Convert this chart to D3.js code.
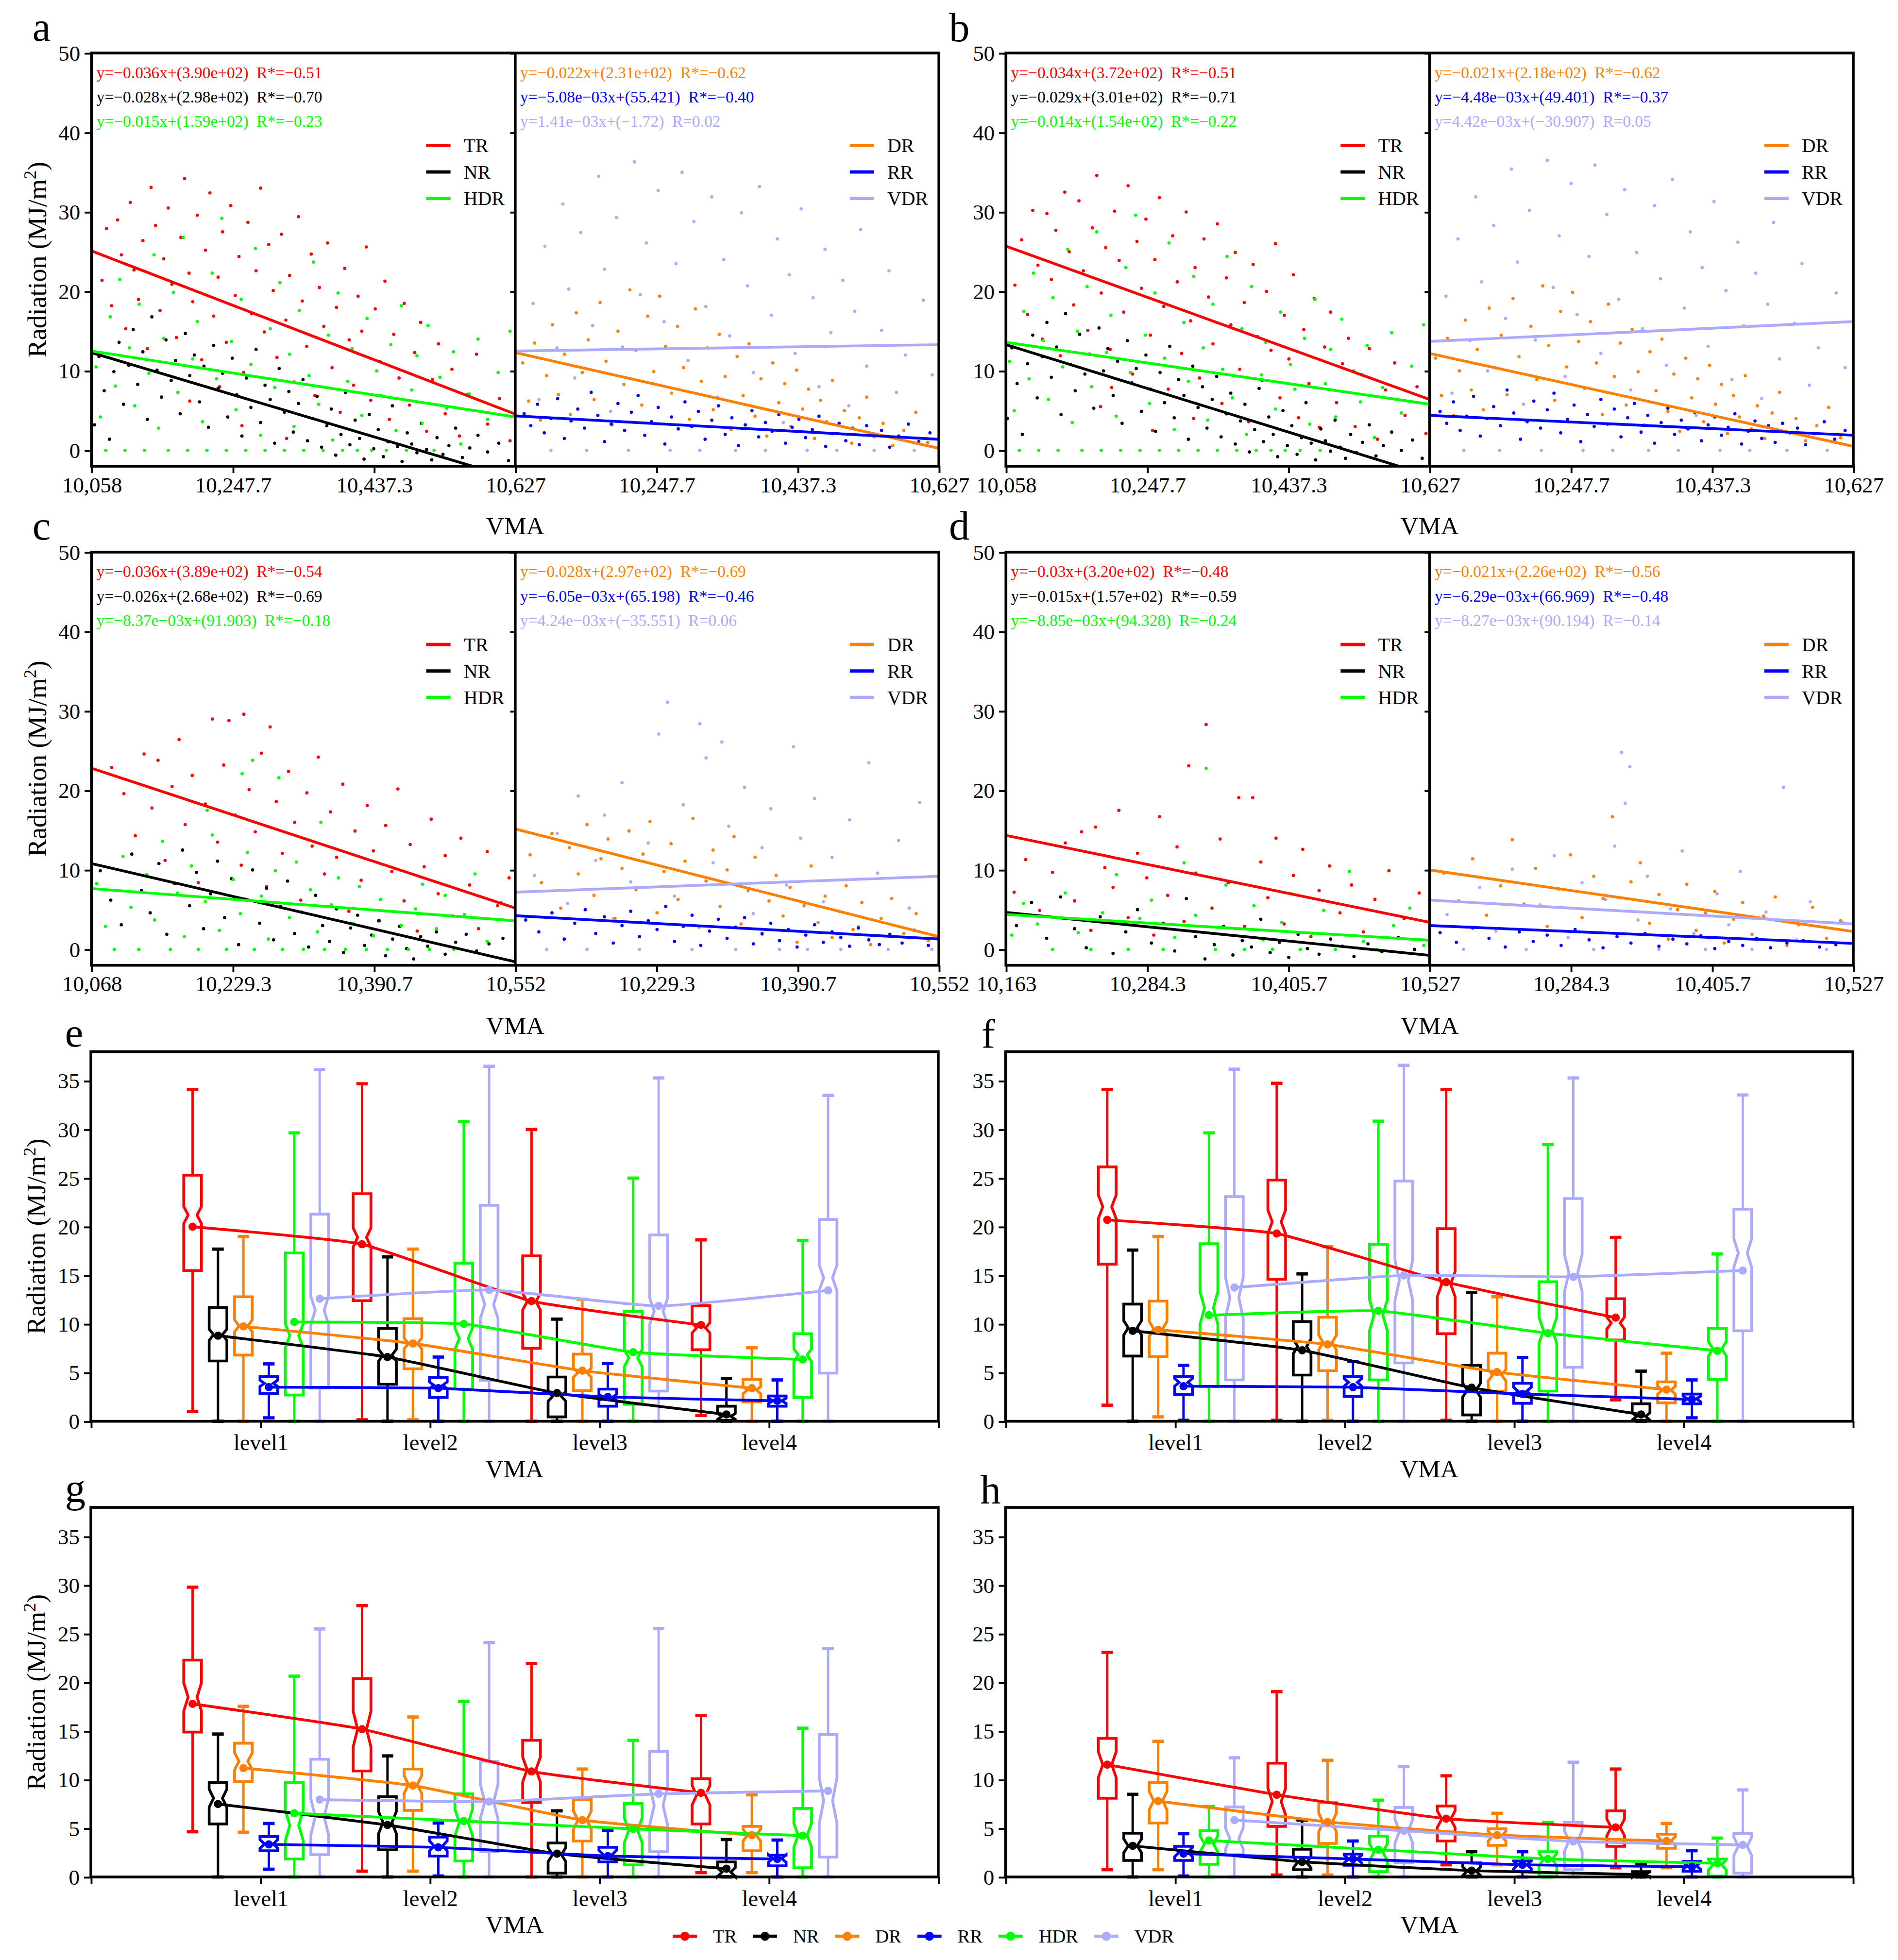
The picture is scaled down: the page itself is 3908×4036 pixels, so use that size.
<!DOCTYPE html>
<html><head><meta charset="utf-8">
<script src="https://cdn.jsdelivr.net/npm/d3@7/dist/d3.min.js"></script>
<style>
html,body{margin:0;padding:0;background:#fff;}
svg{display:block;}
text{font-family:"Liberation Serif","Times New Roman",Times,serif;fill:#000;}
</style></head>
<body><svg id="chart"></svg>
<script>
// ================= DATA =================
const seriesNames = ["TR","NR","DR","RR","HDR","VDR"];
const leftSeries = ["TR","NR","HDR"];
const rightSeries = ["DR","RR","VDR"];
const levelLabels = ["level1","level2","level3","level4"];
const scatterYTicks = [0,10,20,30,40,50];
const boxYTicks = [0,5,10,15,20,25,30,35];

// VMA ranges and tick labels
const vmaA = [10058,10627], vmaTicksA = [10058,10247.7,10437.3,10627], vmaLabelsA = ["10,058","10,247.7","10,437.3","10,627"];
const vmaB = [10058,10627], vmaTicksB = [10058,10247.7,10437.3,10627], vmaLabelsB = ["10,058","10,247.7","10,437.3","10,627"];
const vmaC = [10068,10552], vmaTicksC = [10068,10229.3,10390.7,10552], vmaLabelsC = ["10,068","10,229.3","10,390.7","10,552"];
const vmaD = [10163,10527], vmaTicksD = [10163,10284.3,10405.7,10527], vmaLabelsD = ["10,163","10,284.3","10,405.7","10,527"];

// regression line values at [VMA min, VMA max], order TR, NR, HDR, DR, RR, VDR
const fitA = [[25.1,4.56],[12.3,-3.6],[12.5,4.2],[12.3,0.25],[4.34,1.39],[12.5,13.3]];
const fitB = [[25.7,6.4],[13.3,-3.2],[13.6,5.8],[12.2,0.5],[4.4,1.9],[13.7,16.2]];
const fitC = [[22.8,5.2],[10.8,-1.56],[7.65,3.6],[15.15,1.6],[4.24,1.3],[7.2,9.2]];
const fitD = [[14.35,3.4],[4.65,-0.75],[4.4,1.15],[10.0,2.25],[3.0,0.75],[6.2,3.2]];

// equation texts, order TR, NR, HDR, DR, RR, VDR
const eqA = ["y=−0.036x+(3.90e+02)  R*=−0.51","y=−0.028x+(2.98e+02)  R*=−0.70","y=−0.015x+(1.59e+02)  R*=−0.23",
             "y=−0.022x+(2.31e+02)  R*=−0.62","y=−5.08e−03x+(55.421)  R*=−0.40","y=1.41e−03x+(−1.72)  R=0.02"];
const eqB = ["y=−0.034x+(3.72e+02)  R*=−0.51","y=−0.029x+(3.01e+02)  R*=−0.71","y=−0.014x+(1.54e+02)  R*=−0.22",
             "y=−0.021x+(2.18e+02)  R*=−0.62","y=−4.48e−03x+(49.401)  R*=−0.37","y=4.42e−03x+(−30.907)  R=0.05"];
const eqC = ["y=−0.036x+(3.89e+02)  R*=−0.54","y=−0.026x+(2.68e+02)  R*=−0.69","y=−8.37e−03x+(91.903)  R*=−0.18",
             "y=−0.028x+(2.97e+02)  R*=−0.69","y=−6.05e−03x+(65.198)  R*=−0.46","y=4.24e−03x+(−35.551)  R=0.06"];
const eqD = ["y=−0.03x+(3.20e+02)  R*=−0.48","y=−0.015x+(1.57e+02)  R*=−0.59","y=−8.85e−03x+(94.328)  R=−0.24",
             "y=−0.021x+(2.26e+02)  R*=−0.56","y=−6.29e−03x+(66.969)  R*=−0.48","y=−8.27e−03x+(90.194)  R=−0.14"];

// scatter points (flat VMA, radiation pairs)
const ptsA_TR = [10072,21.4,10078,27.9,10085,18.2,10093,29.0,10098,24.6,10104,15.3,10110,31.2,10115,22.7,10121,19.0,10127,26.4,10133,12.8,10138,33.1,10144,28.3,10150,17.6,10155,24.1,10161,30.5,10166,20.9,10172,14.2,10178,26.8,10183,34.2,10189,22.3,10194,18.7,10200,29.6,10206,11.4,10211,25.2,10217,32.4,10222,16.9,10228,21.8,10234,27.5,10239,13.6,10245,30.8,10251,19.5,10256,24.4,10262,9.8,10268,28.7,10273,17.2,10279,22.6,10285,33.0,10290,14.9,10296,25.9,10302,20.1,10307,11.7,10313,27.2,10319,16.4,10324,22.0,10330,8.6,10336,29.4,10341,18.8,10347,13.1,10353,24.7,10358,6.9,10364,20.5,10370,15.6,10375,26.1,10381,10.4,10387,18.0,10392,4.8,10398,22.9,10404,13.9,10410,8.2,10416,19.4,10421,15.0,10427,25.6,10433,6.3,10439,17.8,10445,11.2,10452,21.3,10458,3.9,10464,14.6,10471,9.1,10478,18.5,10485,5.7,10492,12.3,10500,16.1,10508,2.4,10516,8.9,10524,13.4,10533,4.6,10542,10.2,10552,1.8,10563,7.0,10575,12.1,10590,3.3,10606,6.5,10620,1.2,10190,6.2,10260,3.1,10320,1.5,10230,8.0];
const ptsA_NR = [10062,3.2,10068,11.8,10075,7.5,10082,1.4,10088,9.9,10095,13.6,10101,5.8,10108,10.7,10114,15.2,10120,8.3,10127,12.4,10133,3.9,10139,16.8,10146,10.1,10152,6.7,10158,13.9,10165,8.8,10171,11.3,10177,4.6,10184,14.7,10190,9.4,10196,12.0,10203,6.1,10209,10.6,10215,2.9,10222,13.2,10228,7.8,10234,9.7,10241,4.2,10247,11.6,10253,7.0,10260,1.8,10266,9.1,10272,5.4,10279,12.7,10285,3.5,10291,8.2,10298,6.4,10304,0.9,10310,10.3,10317,4.8,10323,7.4,10329,2.3,10336,5.9,10342,8.9,10348,1.2,10355,4.0,10361,6.8,10367,0.4,10374,3.1,10380,5.2,10386,-0.6,10393,2.0,10399,7.3,10405,0.7,10412,3.8,10418,1.5,10424,-1.1,10431,4.5,10437,0.2,10443,2.6,10450,-0.8,10456,1.1,10462,5.6,10469,0.5,10475,-1.4,10482,2.2,10488,0.8,10495,-0.3,10501,3.4,10508,0.1,10515,-1.2,10522,1.6,10530,-0.5,10538,0.6,10547,2.8,10556,-0.9,10566,0.3,10577,1.9,10590,-0.2,10605,0.9,10618,-1.3];
const ptsA_HDR = [10064,10.5,10070,4.2,10077,0.0,10083,16.8,10090,8.1,10096,21.5,10103,0.0,10109,12.9,10116,5.6,10122,18.4,10129,0.0,10135,9.7,10142,24.6,10148,2.8,10155,14.1,10161,0.0,10168,19.9,10174,7.3,10181,26.8,10187,0.0,10194,11.5,10200,16.2,10207,3.6,10213,0.0,10220,22.3,10226,9.0,10233,29.2,10239,0.0,10246,13.7,10252,5.1,10259,19.0,10265,0.0,10272,10.8,10278,25.4,10285,1.9,10291,0.0,10298,15.3,10304,7.9,10311,21.1,10317,0.0,10324,12.1,10330,3.0,10337,17.6,10343,0.0,10350,9.4,10356,23.7,10363,5.8,10369,0.0,10376,14.5,10382,1.3,10389,19.8,10395,0.0,10402,8.7,10408,12.8,10415,0.0,10421,4.4,10428,16.6,10434,0.0,10441,10.0,10447,6.9,10454,0.0,10460,13.3,10467,2.5,10474,18.2,10481,0.0,10488,7.6,10495,11.9,10502,3.4,10510,15.7,10518,0.0,10526,9.2,10535,5.3,10544,12.4,10554,0.8,10565,7.1,10577,14.0,10590,3.9,10604,9.8,10620,15.0];
const ptsA_DR = [10068,11.0,10076,6.2,10084,13.5,10092,3.8,10100,9.4,10108,15.8,10116,7.0,10124,12.1,10132,4.5,10140,17.3,10148,9.8,10156,13.9,10164,6.4,10172,18.6,10180,11.2,10188,3.2,10196,15.0,10204,8.3,10212,20.2,10220,12.6,10228,5.7,10236,16.9,10244,9.9,10252,19.4,10260,13.1,10268,7.2,10276,15.6,10284,10.4,10292,3.9,10300,17.8,10308,8.7,10316,12.9,10324,5.1,10332,14.6,10340,9.3,10348,2.6,10356,11.8,10364,6.9,10372,13.4,10380,4.3,10388,9.0,10396,1.8,10404,11.0,10412,6.0,10420,8.4,10428,3.0,10436,10.1,10444,5.2,10452,7.7,10460,1.5,10468,6.3,10476,3.6,10484,8.8,10492,2.1,10500,5.0,10510,0.9,10520,4.1,10530,6.7,10540,1.7,10552,3.4,10565,0.6,10580,2.5,10596,4.8,10612,1.0];
const ptsA_RR = [10070,4.6,10079,3.1,10088,5.8,10097,2.2,10106,4.0,10115,6.5,10124,1.5,10133,3.7,10142,5.2,10151,2.8,10160,7.3,10169,4.4,10178,1.1,10187,3.3,10196,5.9,10205,2.5,10214,4.8,10223,6.9,10232,1.9,10241,3.6,10250,5.4,10259,0.8,10268,4.2,10277,2.7,10286,6.1,10295,3.0,10304,4.9,10313,1.4,10322,3.8,10331,5.6,10340,2.0,10349,4.1,10358,0.6,10367,3.2,10376,5.0,10385,1.7,10394,3.5,10403,2.4,10412,4.5,10421,0.9,10430,2.9,10439,3.9,10448,1.6,10457,2.6,10466,4.3,10475,0.5,10484,2.1,10493,3.4,10502,1.2,10511,2.8,10520,0.7,10530,3.1,10540,1.9,10550,2.5,10561,0.4,10573,1.8,10586,3.3,10600,1.1,10615,2.2];
const ptsA_VDR = [10082,18.5,10090,6.4,10098,25.7,10106,0.0,10114,12.9,10122,31.0,10130,20.3,10138,9.1,10146,27.4,10154,0.0,10162,15.7,10170,34.5,10178,22.8,10186,4.9,10194,29.3,10202,13.0,10210,0.0,10218,36.3,10226,19.6,10234,26.1,10242,8.4,10250,32.7,10258,16.2,10266,0.0,10274,23.5,10282,35.0,10290,11.3,10298,28.8,10306,0.0,10314,18.1,10322,31.9,10330,6.7,10338,24.0,10346,14.4,10354,0.0,10362,29.9,10370,20.7,10378,9.8,10386,33.2,10394,0.0,10402,17.0,10410,26.6,10418,3.5,10426,22.1,10434,12.2,10442,30.4,10450,0.0,10458,19.2,10466,8.0,10474,25.3,10482,14.8,10490,0.0,10498,21.4,10506,5.6,10514,17.5,10522,27.8,10530,10.6,10540,0.0,10550,15.1,10560,22.6,10570,7.3,10582,12.0,10594,0.0,10606,18.9,10618,9.5];

const ptsB_TR = [10070,20.8,10079,26.5,10087,17.1,10094,30.2,10101,23.3,10107,14.0,10113,29.8,10119,21.5,10125,27.7,10131,11.9,10137,32.5,10143,25.0,10149,18.3,10156,31.4,10162,22.6,10168,15.1,10174,28.0,10180,34.6,10186,19.8,10192,25.5,10198,12.7,10204,30.1,10210,23.9,10216,17.4,10222,33.3,10228,9.6,10234,26.3,10240,20.4,10246,29.1,10252,14.5,10258,24.0,10264,31.8,10270,18.1,10276,7.7,10282,27.0,10288,21.2,10294,12.2,10300,30.0,10306,16.3,10312,23.0,10318,9.1,10324,26.6,10330,19.3,10336,13.4,10342,28.5,10348,5.9,10354,21.7,10360,15.8,10366,24.9,10372,10.2,10378,18.6,10384,3.6,10390,23.4,10396,14.3,10402,8.8,10408,20.0,10414,12.6,10420,26.0,10426,6.6,10432,17.0,10438,11.5,10444,22.1,10451,4.1,10458,15.2,10465,8.4,10472,19.1,10479,2.9,10486,13.0,10494,17.4,10502,6.0,10510,10.9,10518,14.1,10527,3.0,10536,9.5,10546,12.8,10557,1.4,10568,7.6,10580,11.0,10594,4.4,10610,8.0,10622,2.1,10185,5.5,10255,2.5,10310,4.0,10200,7.9];
const ptsB_NR = [10060,4.0,10066,12.9,10073,8.4,10080,2.0,10087,10.9,10094,14.5,10100,6.6,10107,11.8,10113,16.1,10119,9.2,10126,13.0,10132,4.5,10138,17.2,10145,10.8,10151,7.5,10157,14.6,10164,9.6,10170,12.1,10176,5.3,10183,15.4,10189,10.0,10195,12.8,10202,6.9,10208,11.2,10214,3.4,10221,13.8,10227,8.5,10233,10.3,10240,4.9,10246,12.0,10252,7.7,10259,2.4,10265,9.8,10271,6.0,10278,13.1,10284,4.1,10290,8.9,10297,6.9,10303,1.4,10309,10.6,10316,5.4,10322,8.0,10328,2.8,10335,6.4,10341,9.3,10347,1.7,10354,4.6,10360,7.2,10366,0.8,10373,3.7,10379,5.8,10385,-0.2,10392,2.6,10398,7.8,10404,1.1,10411,4.2,10417,2.0,10423,-0.8,10430,5.0,10436,0.6,10442,3.1,10449,-0.5,10455,1.6,10461,6.0,10468,0.9,10474,-1.2,10481,2.7,10487,1.2,10494,-0.1,10500,3.8,10507,0.4,10514,-1.0,10521,2.0,10529,-0.3,10537,1.0,10546,3.2,10555,-0.7,10565,0.6,10576,2.3,10589,0.0,10604,1.3,10617,-1.0];
const ptsB_HDR = [10063,11.2,10069,5.0,10076,0.0,10082,17.5,10089,9.0,10095,22.3,10102,0.0,10108,13.8,10115,6.4,10121,19.2,10128,0.0,10134,10.5,10141,25.3,10147,3.5,10154,15.0,10160,0.0,10167,20.6,10173,8.0,10180,27.5,10186,0.0,10193,12.3,10199,17.0,10206,4.3,10212,0.0,10219,23.0,10225,9.8,10232,29.6,10238,0.0,10245,14.5,10251,5.9,10258,19.8,10264,0.0,10271,11.6,10277,26.1,10284,2.6,10290,0.0,10297,16.1,10303,8.7,10310,21.9,10316,0.0,10323,12.9,10329,3.8,10336,18.4,10342,0.0,10349,10.2,10355,24.4,10362,6.6,10368,0.0,10375,15.3,10381,2.0,10388,20.6,10394,0.0,10401,9.5,10407,13.6,10414,0.0,10420,5.2,10427,17.4,10433,0.0,10440,10.8,10446,7.7,10453,0.0,10459,14.1,10466,3.3,10473,19.0,10480,0.0,10487,8.4,10494,12.7,10501,4.2,10509,16.5,10517,0.0,10525,10.0,10534,6.1,10543,13.2,10553,1.6,10564,7.9,10576,14.8,10589,4.7,10603,10.6,10619,15.8];
const ptsB_DR = [10066,11.6,10074,6.9,10082,14.1,10090,4.4,10098,10.0,10106,16.4,10114,7.6,10122,12.7,10130,5.1,10138,17.9,10146,10.4,10154,14.5,10162,7.0,10170,19.1,10178,11.8,10186,3.8,10194,15.6,10202,8.9,10210,20.7,10218,13.2,10226,6.3,10234,17.5,10242,10.5,10250,19.9,10258,13.7,10266,7.8,10274,16.2,10282,11.0,10290,4.5,10298,18.4,10306,9.3,10314,13.5,10322,5.7,10330,15.2,10338,9.9,10346,3.2,10354,12.4,10362,7.5,10370,14.0,10378,4.9,10386,9.6,10394,2.4,10402,11.6,10410,6.6,10418,9.0,10426,3.6,10434,10.7,10442,5.8,10450,8.3,10458,2.1,10466,6.9,10474,4.2,10482,9.4,10490,2.7,10498,5.6,10508,1.5,10518,4.7,10528,7.3,10538,2.3,10550,4.0,10563,1.2,10578,3.1,10594,5.4,10610,1.6];
const ptsB_RR = [10072,4.9,10081,3.4,10090,6.1,10099,2.5,10108,4.3,10117,6.8,10126,1.8,10135,4.0,10144,5.5,10153,3.1,10162,7.6,10171,4.7,10180,1.4,10189,3.6,10198,6.2,10207,2.8,10216,5.1,10225,7.2,10234,2.2,10243,3.9,10252,5.7,10261,1.1,10270,4.5,10279,3.0,10288,6.4,10297,3.3,10306,5.2,10315,1.7,10324,4.1,10333,5.9,10342,2.3,10351,4.4,10360,0.9,10369,3.5,10378,5.3,10387,2.0,10396,3.8,10405,2.7,10414,4.8,10423,1.2,10432,3.2,10441,4.2,10450,1.9,10459,2.9,10468,4.6,10477,0.8,10486,2.4,10495,3.7,10504,1.5,10513,3.1,10522,1.0,10532,3.4,10542,2.2,10552,2.8,10563,0.7,10575,2.1,10588,3.6,10602,1.4,10616,2.5];
const ptsB_VDR = [10080,19.4,10088,7.2,10096,26.6,10104,0.0,10112,13.8,10120,31.9,10128,21.2,10136,10.0,10144,28.3,10152,0.0,10160,16.6,10168,35.4,10176,23.7,10184,5.8,10192,30.2,10200,13.9,10208,0.0,10216,36.5,10224,20.5,10232,27.0,10240,9.3,10248,33.6,10256,17.1,10264,0.0,10272,24.4,10280,35.9,10288,12.2,10296,29.7,10304,0.0,10312,19.0,10320,32.8,10328,7.6,10336,24.9,10344,15.3,10352,0.0,10360,30.8,10368,21.6,10376,10.7,10384,34.1,10392,0.0,10400,17.9,10408,27.5,10416,4.4,10424,23.0,10432,13.1,10440,31.3,10448,0.0,10456,20.1,10464,8.9,10472,26.2,10480,15.7,10488,0.0,10496,22.3,10504,6.5,10512,18.4,10520,28.7,10528,11.5,10538,0.0,10548,16.0,10558,23.5,10568,8.2,10580,12.9,10592,0.0,10604,19.8,10616,10.4];

const ptsC_TR = [10091,22.9,10105,19.6,10118,14.3,10128,24.6,10137,17.8,10144,23.8,10152,11.2,10160,20.5,10168,26.4,10175,15.7,10183,21.9,10190,8.4,10198,18.3,10206,29.0,10212,13.5,10219,23.2,10225,28.8,10232,16.9,10239,10.6,10242,29.6,10248,20.1,10255,14.8,10262,24.7,10268,7.9,10272,28.0,10279,18.6,10286,12.1,10293,22.4,10300,16.0,10307,6.2,10314,19.7,10320,13.0,10327,24.2,10334,9.5,10341,17.3,10348,11.6,10355,20.8,10362,4.8,10369,14.9,10376,8.7,10383,18.1,10390,12.4,10397,3.6,10404,15.6,10411,9.8,10418,20.2,10425,6.1,10432,13.2,10440,2.3,10448,10.4,10456,16.4,10464,7.0,10472,11.8,10481,4.2,10490,14.0,10500,8.1,10510,2.6,10520,12.3,10532,5.5,10545,9.0];
const ptsC_NR = [10078,9.9,10090,6.2,10102,3.1,10114,12.0,10125,7.4,10135,4.6,10145,10.8,10154,1.9,10163,8.3,10172,12.5,10180,5.5,10188,9.7,10196,2.6,10204,7.0,10212,11.1,10220,4.0,10228,8.9,10236,0.6,10244,6.3,10252,10.0,10260,3.3,10268,7.7,10276,1.2,10284,5.4,10292,8.6,10300,2.0,10308,4.7,10316,0.3,10324,6.8,10332,3.0,10340,1.0,10348,5.1,10356,-0.4,10364,2.7,10372,4.3,10380,0.5,10388,1.8,10396,3.6,10404,-0.8,10412,1.3,10420,2.9,10428,0.1,10436,-1.2,10444,1.6,10452,0.4,10462,2.2,10472,-0.6,10484,0.9,10496,1.9,10508,-0.2,10522,0.7,10538,1.4];
const ptsC_HDR = [10074,8.3,10084,2.9,10094,0.0,10104,11.7,10113,5.3,10122,0.0,10131,9.4,10140,3.7,10149,13.6,10158,0.0,10166,7.1,10174,1.6,10182,10.5,10190,0.0,10198,6.0,10206,14.4,10214,2.4,10222,0.0,10230,8.8,10238,4.5,10246,12.2,10254,0.0,10262,6.7,10270,1.3,10278,9.9,10286,0.0,10294,4.0,10302,11.0,10310,0.0,10318,7.5,10326,2.2,10334,0.0,10342,5.6,10350,9.0,10358,0.0,10366,3.3,10374,7.9,10382,0.0,10390,1.7,10398,6.3,10406,0.0,10414,10.2,10422,3.0,10430,0.0,10438,5.1,10446,8.2,10454,0.0,10462,2.6,10472,6.8,10482,0.0,10494,4.4,10506,9.5,10520,1.0,10536,5.9,10240,22.1,10252,23.8,10282,21.6,10200,17.5,10330,16.0];
const ptsC_DR = [10085,11.9,10098,8.4,10110,14.6,10120,5.2,10130,12.8,10140,9.5,10150,15.7,10158,6.8,10166,11.4,10174,13.9,10182,3.9,10190,10.2,10198,14.9,10206,7.5,10214,12.0,10222,16.1,10230,4.6,10238,9.8,10246,13.3,10254,6.3,10262,11.1,10271,16.5,10278,2.8,10286,8.6,10294,12.5,10302,5.4,10310,10.0,10318,14.2,10326,3.2,10334,7.4,10342,11.6,10350,1.9,10358,6.1,10366,9.3,10374,4.2,10382,7.8,10390,0.9,10398,5.5,10406,10.5,10414,3.4,10422,6.7,10430,1.5,10438,4.8,10446,8.0,10454,2.5,10464,5.9,10474,0.6,10486,3.9,10498,6.4,10512,2.0,10526,4.5,10540,1.1];
const ptsC_RR = [10080,3.7,10095,2.2,10110,4.6,10124,1.3,10136,3.3,10148,5.0,10160,2.0,10170,4.1,10180,0.8,10190,3.0,10200,4.8,10210,1.6,10220,3.6,10230,2.5,10240,5.4,10250,1.0,10260,2.9,10270,4.3,10280,0.5,10290,2.3,10300,3.8,10310,1.4,10320,2.8,10330,4.0,10340,0.7,10350,2.0,10360,3.3,10370,1.1,10380,2.5,10390,0.3,10400,1.8,10410,3.1,10420,0.9,10430,2.2,10440,1.5,10450,0.4,10460,2.7,10472,1.2,10484,0.6,10496,1.9,10510,0.8,10524,2.4,10540,0.5];
const ptsC_VDR = [10090,9.3,10104,0.0,10116,14.6,10128,5.8,10140,19.3,10150,0.0,10160,11.2,10170,16.9,10180,3.9,10190,21.0,10200,8.5,10210,0.0,10220,13.4,10232,27.1,10242,31.1,10250,6.7,10260,18.2,10270,0.0,10279,28.4,10286,24.1,10294,10.9,10304,26.1,10312,15.5,10320,0.0,10330,20.4,10340,4.5,10350,12.8,10360,17.7,10370,0.0,10378,8.1,10386,25.5,10394,14.0,10402,0.0,10410,19.0,10420,6.0,10430,11.6,10440,0.0,10450,16.3,10460,2.9,10472,23.5,10482,9.6,10494,0.0,10506,13.7,10518,5.2,10530,18.5,10544,0.0];

const ptsD_TR = [10170,7.2,10180,11.3,10192,4.9,10203,9.7,10214,13.4,10222,6.1,10228,14.8,10236,2.4,10240,15.4,10248,10.3,10255,7.8,10260,17.5,10268,4.0,10276,12.1,10284,9.0,10290,1.8,10295,16.7,10302,6.8,10310,12.9,10316,3.5,10320,23.1,10326,9.6,10335,28.3,10340,5.2,10347,13.9,10354,8.4,10363,19.1,10368,2.9,10375,19.1,10382,11.0,10388,6.5,10395,14.0,10402,3.2,10410,9.3,10418,12.6,10425,1.6,10432,7.4,10441,10.5,10450,4.6,10460,8.1,10470,2.2,10480,6.3,10492,9.9,10505,3.9,10518,7.1];
const ptsD_NR = [10172,3.0,10185,5.9,10198,1.4,10210,6.6,10222,2.6,10232,0.2,10244,4.1,10255,-0.5,10266,2.2,10276,5.0,10288,0.8,10298,3.3,10308,-0.2,10318,6.4,10326,1.6,10334,-1.2,10342,0.6,10350,2.9,10358,-0.7,10366,1.1,10374,0.3,10382,3.8,10390,-0.4,10398,0.9,10406,-1.0,10414,1.9,10422,0.1,10432,-0.6,10442,1.3,10452,0.4,10462,-0.9,10474,0.7,10486,-0.3,10500,1.5,10514,0.0];
const ptsD_HDR = [10168,1.8,10178,5.8,10190,3.2,10203,0.0,10214,7.1,10225,2.1,10236,0.0,10246,4.6,10258,9.4,10268,0.0,10278,3.9,10288,6.2,10298,0.0,10308,1.5,10316,10.9,10326,4.3,10335,22.8,10343,0.0,10352,8.1,10360,2.6,10368,0.0,10376,5.5,10384,1.2,10392,0.0,10400,3.4,10408,7.0,10416,0.0,10426,2.0,10436,4.9,10446,0.0,10458,9.8,10470,1.0,10482,0.0,10496,3.0,10510,5.2,10522,0.5];
const ptsD_DR = [10175,9.6,10188,6.1,10200,11.4,10212,4.3,10224,8.0,10234,13.8,10244,5.7,10254,10.2,10264,2.9,10274,7.6,10284,11.9,10294,4.0,10304,9.2,10312,6.4,10320,16.7,10328,2.0,10336,8.5,10344,10.9,10352,3.3,10360,6.9,10368,1.3,10376,5.0,10384,8.2,10392,2.4,10400,4.6,10408,7.3,10416,0.8,10424,3.8,10432,5.9,10440,1.9,10450,4.2,10460,6.6,10470,0.5,10480,3.1,10492,5.3,10504,1.4,10516,3.6];
const ptsD_RR = [10172,2.1,10186,0.9,10200,2.7,10214,1.4,10228,0.3,10240,2.2,10252,1.0,10264,1.8,10276,0.5,10288,2.5,10300,1.2,10312,0.2,10324,1.6,10336,0.8,10348,2.0,10360,0.4,10372,1.3,10384,0.7,10396,1.7,10408,0.1,10420,1.0,10432,0.5,10444,1.4,10456,0.2,10470,0.8,10484,1.1,10498,0.3,10512,0.6];
const ptsD_VDR = [10178,4.4,10192,0.0,10206,7.8,10220,2.3,10234,10.1,10246,0.0,10258,5.6,10270,11.8,10282,1.5,10294,8.4,10304,0.0,10314,6.3,10322,13.0,10328,24.8,10331,18.4,10335,23.0,10342,3.7,10350,9.2,10360,0.0,10370,5.1,10380,12.4,10390,2.0,10400,0.0,10410,7.0,10420,3.1,10430,9.8,10440,0.0,10452,4.7,10467,20.4,10478,1.2,10490,6.0,10504,0.0,10518,3.4];

// box statistics per level: [whisker low, Q1, median, Q3, whisker high, mean]
const boxE_TR = [[1.0,15.5,21.2,25.3,34.1,20.0],[0.15,12.4,18.9,23.4,34.7,18.2],[0,7.5,12.3,17.0,30.0,12.35],[0.6,7.35,9.6,11.9,18.65,9.9]];
const boxE_NR = [[0,6.2,8.9,11.7,17.7,8.8],[0,3.8,6.8,9.55,16.9,6.6],[0,0.45,2.55,4.55,10.5,2.9],[0,0.1,0.5,1.55,4.4,0.7]];
const boxE_DR = [[0,6.8,9.8,12.8,19.0,9.75],[0.15,5.4,8.0,10.55,17.7,8.0],[0,3.15,5.0,6.9,12.55,5.2],[0,2.0,3.2,4.3,7.55,3.4]];
const boxE_RR = [[0.35,2.85,3.9,4.6,5.9,3.5],[0,2.45,3.7,4.5,6.6,3.4],[0,1.55,2.45,3.3,5.95,2.5],[0,1.55,2.1,2.6,4.25,2.1]];
const boxE_HDR = [[0,2.7,8.8,17.3,29.65,10.2],[0,3.3,8.5,16.25,30.8,10.0],[0,1.75,6.5,11.3,25.0,7.1],[0,2.45,6.8,9.0,18.6,6.35]];
const boxE_VDR = [[0,3.4,11.4,21.3,36.15,12.6],[0,4.2,12.0,22.2,36.5,13.5],[0,3.1,11.3,19.15,35.3,11.85],[0,4.95,14.75,20.75,33.5,13.45]];

const boxF_TR = [[1.65,16.15,22.05,26.15,34.1,20.7],[0.1,14.6,20.5,24.8,34.75,19.3],[0.1,9.0,14.1,19.8,34.1,14.3],[2.2,8.35,10.1,12.6,18.9,10.65]];
const boxF_NR = [[0,6.7,9.6,12.05,17.6,9.3],[0,4.75,7.7,10.25,15.15,7.3],[0,0.65,3.2,5.75,13.25,3.45],[0,0.1,0.5,1.8,5.15,0.7]];
const boxF_DR = [[0.45,6.65,9.5,12.35,19.0,9.4],[0.1,5.2,8.1,10.7,17.95,7.9],[0,3.1,4.75,7.0,12.8,5.05],[0,1.9,3.2,4.05,7.0,3.25]];
const boxF_RR = [[0.1,2.75,4.0,4.6,5.75,3.6],[0,2.55,4.0,4.6,6.15,3.5],[0,1.85,3.1,3.9,6.55,2.8],[0.35,1.8,2.3,2.8,4.25,2.25]];
const boxF_HDR = [[0,3.55,11.65,18.25,29.65,10.9],[0,4.25,10.9,18.2,30.85,11.35],[0,3.1,9.35,14.35,28.45,9.05],[0,4.3,7.45,9.55,17.2,7.25]];
const boxF_VDR = [[0,4.25,12.7,23.1,36.2,13.75],[0,6.0,14.5,24.7,36.6,15.0],[0,5.55,15.25,22.9,35.3,14.85],[0,9.3,17.3,21.8,33.55,15.5]];

const boxG_TR = [[4.65,14.9,18.5,22.3,29.8,17.8],[0.6,10.9,15.2,20.4,27.9,15.2],[0,7.65,11.05,14.05,21.95,10.85],[0.45,5.45,8.4,10.1,16.6,8.65]];
const boxG_NR = [[0,5.45,8.1,9.7,14.7,7.5],[0,2.8,5.6,8.25,12.45,5.35],[0,0.4,2.3,3.5,6.8,2.4],[0,0.05,0.5,1.55,3.85,0.85]];
const boxG_DR = [[4.6,9.8,11.9,13.75,17.55,11.2],[0.6,6.85,9.5,11.1,16.45,9.4],[0,3.7,5.85,7.95,11.1,5.85],[0.45,2.7,4.3,5.2,8.45,4.3]];
const boxG_RR = [[0.8,2.7,3.4,4.15,5.5,3.35],[0.1,2.15,3.2,4.1,5.55,3.05],[0,1.55,2.3,3.05,4.8,2.15],[0,1.15,1.9,2.25,3.8,1.85]];
const boxG_HDR = [[0,1.85,5.3,9.7,20.65,6.55],[0,1.65,5.6,8.55,18.05,5.75],[0,1.25,4.8,7.55,14.05,4.95],[0,0.95,4.3,7.05,15.3,4.25]];
const boxG_VDR = [[0,2.3,6.2,12.1,25.5,7.95],[0,2.6,7.75,11.9,24.1,7.75],[0,2.6,7.35,12.9,25.55,8.55],[0,2.05,7.85,14.65,23.5,8.85]];

const boxH_TR = [[0.75,8.1,11.55,14.25,23.1,11.55],[0.2,5.2,7.75,11.7,19.05,8.45],[1.25,3.7,5.95,7.3,10.4,6.0],[0.95,3.15,5.1,6.8,11.1,5.1]];
const boxH_NR = [[0,1.7,3.2,4.5,8.5,3.2],[0,0.75,1.5,2.85,5.85,1.55],[0,0.1,0.6,1.45,2.6,0.65],[0,0.05,0.25,0.55,1.3,0.25]];
const boxH_DR = [[0.75,5.55,7.85,9.7,13.95,7.8],[0.2,3.45,5.6,7.65,12.0,5.65],[1.25,3.25,4.2,4.95,6.55,4.3],[0.95,2.95,3.7,4.4,5.5,3.7]];
const boxH_RR = [[0.1,1.7,2.55,3.15,4.45,2.4],[0,1.2,1.85,2.35,3.7,1.85],[0,0.6,1.25,1.65,2.6,1.25],[0,0.6,1.15,1.6,2.7,1.05]];
const boxH_HDR = [[0,1.3,3.4,4.75,7.25,3.75],[0,0.55,2.55,4.2,7.9,2.8],[0,0.1,1.8,2.6,5.6,1.85],[0,0.1,1.25,1.85,4.0,1.4]];
const boxH_VDR = [[0,2.3,3.95,7.2,12.25,5.85],[0,1.45,4.7,7.15,11.35,4.75],[0,0.75,3.7,5.6,11.8,3.65],[0,0.4,3.15,4.45,8.95,3.3]];

// ================= DRAWING =================
const SCALE = 3908/1520;
const VW = 1520, VH = 4036/SCALE;
const svg = d3.select("#chart").attr("width",3908).attr("height",4036).attr("viewBox",`0 0 ${VW} ${VH}`);
const FONT = '"Liberation Serif","Times New Roman",Times,serif';
const color = {TR:"#ff0000",NR:"#000000",DR:"#ff8000",RR:"#0000ff",HDR:"#00ff00",VDR:"#aaaaff"};

function styleAxis(g, fs) {
  g.attr("font-family", null).attr("font-size", null);
  g.select(".domain").remove();
  g.selectAll(".tick line").attr("stroke","#000").attr("stroke-width",1.5);
  g.selectAll(".tick text").attr("fill","#000").style("font-size", fs+"px").style("font-family", FONT);
}
function panelLabel(x, y, t) {
  svg.append("text").attr("x",x).attr("y",y).style("font-size","33px").text(t);
}
function yTitle(x, cy) {
  const t = svg.append("text").attr("transform",`translate(${x},${cy}) rotate(-90)`)
    .attr("text-anchor","middle").style("font-size","21px");
  t.append("tspan").text("Radiation (MJ/m");
  t.append("tspan").attr("dy",-8).style("font-size","14px").text("2");
  t.append("tspan").attr("dy",8).text(")");
}
function vmaTitle(cx, y) {
  svg.append("text").attr("x",cx).attr("y",y).attr("text-anchor","middle").style("font-size","20px").text("VMA");
}

function drawScatter(c) {
  const halfW = 339.3, plotH = 330.9;
  const bottom = c.top + plotH;
  const y = d3.scaleLinear().domain([-2,50]).range([bottom, c.top]);
  const xs = [d3.scaleLinear().domain(c.dom).range([c.x0, c.x0+halfW]),
              d3.scaleLinear().domain(c.dom).range([c.x0+halfW, c.x0+2*halfW])];
  const g = svg.append("g");
  [leftSeries, rightSeries].forEach((names, hi) => {
    const x = xs[hi], xl = x.range()[0];
    const cid = "clip" + c.label + hi;
    g.append("clipPath").attr("id",cid).append("rect")
      .attr("x",xl).attr("y",c.top).attr("width",halfW).attr("height",plotH);
    const pg = g.append("g").attr("clip-path",`url(#${cid})`);
    const order = hi === 0 ? ["TR","NR","HDR"] : ["VDR","DR","RR"];
    order.forEach(name => {
      const arr = c.pts[name];
      const pairs = d3.range(0, arr.length-1, 2).map(i => [arr[i], arr[i+1]]);
      pg.append("g").selectAll("circle").data(pairs).join("circle")
        .attr("cx", d => x(d[0])).attr("cy", d => y(d[1])).attr("r", 1.3).attr("fill", color[name]);
    });
    names.forEach((name, si) => {
      const f = c.fits[hi*3+si];
      pg.append("line").attr("x1",x(c.dom[0])).attr("x2",x(c.dom[1]))
        .attr("y1",y(f[0])).attr("y2",y(f[1]))
        .attr("stroke",color[name]).attr("stroke-width",2.2);
    });
    names.forEach((name, si) => {
      g.append("text").attr("x", xl+4).attr("y", c.top+20+si*19.6)
        .style("fill",color[name]).style("font-size","13px").style("white-space","pre")
        .text(c.eqs[hi*3+si]);
      const ly = c.top + 74 + si*21.2, lx = xl + 268;
      g.append("line").attr("x1",lx).attr("x2",lx+19.5).attr("y1",ly).attr("y2",ly)
        .attr("stroke",color[name]).attr("stroke-width",2.6);
      g.append("text").attr("x",lx+30).attr("y",ly).attr("dy","0.35em").style("font-size","15.5px").text(name);
    });
    const tv = hi === 0 ? c.tickVals : c.tickVals.slice(1);
    const ax = g.append("g").attr("transform",`translate(0,${bottom})`)
      .call(d3.axisBottom(x).tickValues(tv).tickSize(5.5).tickPadding(3)
        .tickFormat(v => c.tickLabs[c.tickVals.indexOf(v)]));
    styleAxis(ax, 17.5);
  });
  const ay = g.append("g").attr("transform",`translate(${c.x0},0)`)
    .call(d3.axisLeft(y).tickValues(scatterYTicks).tickSize(5.5).tickPadding(3.5));
  styleAxis(ay, 17.5);
  const ad = g.append("g").attr("transform",`translate(${c.x0+halfW},0)`)
    .call(d3.axisLeft(y).tickValues(scatterYTicks.slice(1)).tickSize(4).tickFormat(""));
  styleAxis(ad, 17.5);
  g.append("rect").attr("x",c.x0).attr("y",c.top).attr("width",2*halfW).attr("height",plotH)
    .attr("fill","none").attr("stroke","#000").attr("stroke-width",2.2);
  g.append("line").attr("x1",c.x0+halfW).attr("x2",c.x0+halfW).attr("y1",c.top).attr("y2",bottom)
    .attr("stroke","#000").attr("stroke-width",2.2);
  panelLabel(c.lx, c.ly, c.label);
  if (c.yTitle) yTitle(c.x0-36.5, c.top + plotH/2);
  vmaTitle(c.x0+halfW, c.vmaY);
}

function drawBox(c) {
  const W = 678.6, plotH = 296;
  const bottom = c.top + plotH;
  const x = d3.scaleLinear().domain([0,5]).range([c.x0, c.x0+W]);
  const y = d3.scaleLinear().domain([0,38]).range([bottom, c.top]);
  const g = svg.append("g");
  const bw = 7.1, cw = 4.6, inset = 0.5;
  const offs = seriesNames.map((n,i) => -0.4 + 0.15*i);
  seriesNames.forEach((name, si) => {
    const col = color[name];
    c.data[name].forEach((r, li) => {
      const [lo,q1,med,q3,hi] = r;
      const cx = x(li+1+offs[si]);
      const n = c.notchK*(q3-q1) + 0.2;
      g.append("line").attr("x1",cx).attr("x2",cx).attr("y1",y(lo)).attr("y2",y(q1))
        .attr("stroke",col).attr("stroke-width",1.9);
      g.append("line").attr("x1",cx).attr("x2",cx).attr("y1",y(q3)).attr("y2",y(hi))
        .attr("stroke",col).attr("stroke-width",1.9);
      [lo,hi].forEach(v => g.append("line").attr("x1",cx-cw).attr("x2",cx+cw).attr("y1",y(v)).attr("y2",y(v))
        .attr("stroke",col).attr("stroke-width",2.6));
      const p = d3.path();
      p.moveTo(cx-bw, y(q3)); p.lineTo(cx+bw, y(q3)); p.lineTo(cx+bw, y(med+n));
      p.lineTo(cx+bw*inset, y(med)); p.lineTo(cx+bw, y(med-n)); p.lineTo(cx+bw, y(q1));
      p.lineTo(cx-bw, y(q1)); p.lineTo(cx-bw, y(med-n)); p.lineTo(cx-bw*inset, y(med));
      p.lineTo(cx-bw, y(med+n)); p.closePath();
      g.append("path").attr("d", p.toString()).attr("fill","none").attr("stroke",col)
        .attr("stroke-width",2.2).attr("stroke-linejoin","miter");
    });
  });
  seriesNames.forEach((name, si) => {
    const line = d3.line().x((r,li) => x(li+1+offs[si])).y(r => y(r[5])).curve(d3.curveCardinal.tension(0.6));
    g.append("path").attr("d", line(c.data[name])).attr("fill","none").attr("stroke",color[name]).attr("stroke-width",2.2);
  });
  seriesNames.forEach((name, si) => {
    g.append("g").selectAll("circle").data(c.data[name]).join("circle")
      .attr("cx",(r,li) => x(li+1+offs[si])).attr("cy", r => y(r[5])).attr("r",3.3).attr("fill",color[name]);
  });
  const ax = g.append("g").attr("transform",`translate(0,${bottom})`)
    .call(d3.axisBottom(x).tickValues([0,1,2,3,4,5]).tickSize(5.5).tickPadding(5)
      .tickFormat(v => (v>=1 && v<=4) ? levelLabels[v-1] : ""));
  styleAxis(ax, 18);
  const ay = g.append("g").attr("transform",`translate(${c.x0},0)`)
    .call(d3.axisLeft(y).tickValues(boxYTicks).tickSize(5.5).tickPadding(3.5));
  styleAxis(ay, 17.5);
  g.append("rect").attr("x",c.x0).attr("y",c.top).attr("width",W).attr("height",plotH)
    .attr("fill","none").attr("stroke","#000").attr("stroke-width",2.2);
  panelLabel(c.lx, c.ly, c.label);
  if (c.yTitle) yTitle(c.x0-36.5, c.top + plotH/2);
  vmaTitle(c.x0+W/2, c.vmaY);
}

function mk(TR,NR,DR,RR,HDR,VDR){ return {TR,NR,DR,RR,HDR,VDR}; }

drawScatter({label:"a", x0:73.3, top:42.5, dom:vmaA, tickVals:vmaTicksA, tickLabs:vmaLabelsA, fits:fitA, eqs:eqA,
  pts:mk(ptsA_TR,ptsA_NR,ptsA_DR,ptsA_RR,ptsA_HDR,ptsA_VDR), yTitle:true, lx:26, ly:32.5, vmaY:428});
drawScatter({label:"b", x0:805.6, top:42.5, dom:vmaB, tickVals:vmaTicksB, tickLabs:vmaLabelsB, fits:fitB, eqs:eqB,
  pts:mk(ptsB_TR,ptsB_NR,ptsB_DR,ptsB_RR,ptsB_HDR,ptsB_VDR), yTitle:false, lx:760, ly:33, vmaY:428});
drawScatter({label:"c", x0:73.3, top:442.2, dom:vmaC, tickVals:vmaTicksC, tickLabs:vmaLabelsC, fits:fitC, eqs:eqC,
  pts:mk(ptsC_TR,ptsC_NR,ptsC_DR,ptsC_RR,ptsC_HDR,ptsC_VDR), yTitle:true, lx:26, ly:432, vmaY:828});
drawScatter({label:"d", x0:805.6, top:442.2, dom:vmaD, tickVals:vmaTicksD, tickLabs:vmaLabelsD, fits:fitD, eqs:eqD,
  pts:mk(ptsD_TR,ptsD_NR,ptsD_DR,ptsD_RR,ptsD_HDR,ptsD_VDR), yTitle:false, lx:760, ly:432, vmaY:828});

drawBox({label:"e", x0:72.8, top:842.3, data:mk(boxE_TR,boxE_NR,boxE_DR,boxE_RR,boxE_HDR,boxE_VDR), notchK:0.07, yTitle:true, lx:52, ly:838, vmaY:1183});
drawBox({label:"f", x0:805.3, top:842.3, data:mk(boxF_TR,boxF_NR,boxF_DR,boxF_RR,boxF_HDR,boxF_VDR), notchK:0.1, yTitle:false, lx:786, ly:839, vmaY:1183});
drawBox({label:"g", x0:72.8, top:1207.3, data:mk(boxG_TR,boxG_NR,boxG_DR,boxG_RR,boxG_HDR,boxG_VDR), notchK:0.17, yTitle:true, lx:52, ly:1203, vmaY:1548});
drawBox({label:"h", x0:805.3, top:1207.3, data:mk(boxH_TR,boxH_NR,boxH_DR,boxH_RR,boxH_HDR,boxH_VDR), notchK:0.18, yTitle:false, lx:785, ly:1204, vmaY:1548});

// bottom legend
(function(){
  let xc = 548.5; const cy = 1550.7;
  seriesNames.forEach(name => {
    svg.append("line").attr("x1",xc-9.7).attr("x2",xc+9.7).attr("y1",cy).attr("y2",cy)
      .attr("stroke",color[name]).attr("stroke-width",2.4);
    svg.append("circle").attr("cx",xc).attr("cy",cy).attr("r",3.6).attr("fill",color[name]);
    const t = svg.append("text").attr("x",xc+22.5).attr("y",cy).attr("dy","0.35em").style("font-size","15px").text(name);
    xc = xc + 22.5 + t.node().getComputedTextLength() + 22.5;
  });
})();
</script>
</body></html>
